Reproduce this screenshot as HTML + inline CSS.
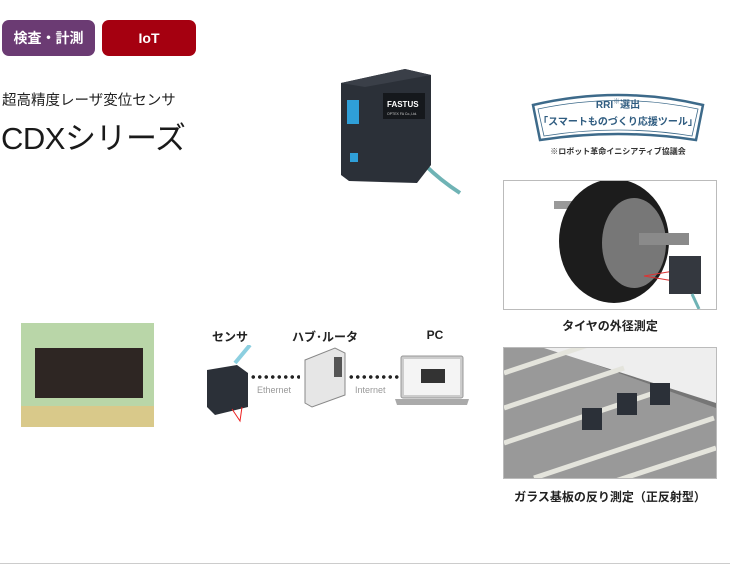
<!DOCTYPE html>
<html><head><meta charset="utf-8"><style>
body{margin:0;width:730px;height:570px;background:#fff;position:relative;overflow:hidden;font-family:"Liberation Sans","Noto Sans CJK JP",sans-serif}
.a{position:absolute}
.b{position:absolute;top:20px;height:36px;border-radius:7px;color:#fff;font-weight:bold;font-size:14px;text-align:center;line-height:36px}
.cap{position:absolute;font-weight:bold;font-size:12px;color:#222;text-align:center;white-space:nowrap}
.dots{position:absolute;height:4px;background:radial-gradient(circle,#222 1.6px,transparent 2px) 0 0/6.5px 4px repeat-x}
</style></head><body>
<div class="b" style="left:2px;width:93px;background:#6b3b73">検査・計測</div>
<div class="b" style="left:102px;width:94px;background:#a50010">IoT</div>
<div class="a" style="left:2px;top:89px;font-size:14.5px;color:#222">超高精度レーザ変位センサ</div>
<div class="a" style="left:1px;top:113px;font-size:31px;color:#1a1a1a;letter-spacing:-0.5px">CDXシリーズ</div>

<!-- product -->
<svg class="a" style="left:335px;top:65px" width="130" height="135">
<path d="M90 100 Q105 115 125 128" stroke="#6fb3b5" stroke-width="4" fill="none"/>
<path d="M6 18 L70 4 L96 10 L96 100 L82 118 L14 116 L6 110 Z" fill="#2b3038"/>
<path d="M6 18 L70 4 L96 10 L30 22 Z" fill="#3a3f48"/>
<rect x="12" y="35" width="12" height="24" fill="#2f9fd8"/>
<rect x="15" y="88" width="8" height="9" fill="#2f9fd8"/>
<rect x="48" y="28" width="42" height="26" fill="#15181c"/>
<text x="52" y="42" font-size="8" font-weight="bold" fill="#fff" font-family="Liberation Sans">FASTUS</text>
<text x="52" y="50" font-size="3.5" fill="#ccc" font-family="Liberation Sans">OPTEX FA Co.,Ltd.</text>
</svg>

<!-- RRI badge -->
<svg class="a" style="left:528px;top:90px" width="180" height="56">
<path d="M5 15 Q90 -5 175 15 L168 50 Q90 38 12 50 Z" fill="#fff" stroke="#3d6a8a" stroke-width="2.5"/>
<path d="M10 19 Q90 2 170 19 L164 46 Q90 34 16 46 Z" fill="none" stroke="#3d6a8a" stroke-width="0.8"/>
</svg>
<div class="a" style="left:528px;top:96px;width:180px;text-align:center;font-size:10px;font-weight:bold;color:#2f5c80">RRI<sup style="font-size:7px">※</sup>選出</div>
<div class="a" style="left:528px;top:113px;width:180px;text-align:center;font-size:10px;font-weight:bold;color:#2f5c80">「スマートものづくり応援ツール」</div>
<div class="a" style="left:528px;top:146px;width:180px;text-align:center;font-size:8px;font-weight:bold;color:#333">※ロボット革命イニシアティブ協議会</div>

<!-- tire -->
<div class="a" style="left:503px;top:180px;width:212px;height:128px;border:1px solid #bbb;overflow:hidden;background:#fff">
<svg width="212" height="128">
<rect x="50" y="20" width="30" height="8" fill="#999"/>
<ellipse cx="110" cy="60" rx="55" ry="62" fill="#1c1c1c"/>
<ellipse cx="130" cy="62" rx="32" ry="45" fill="#777"/>
<rect x="135" y="52" width="50" height="12" fill="#8a8a8a"/>
<path d="M140 95 L170 90 L170 100 Z" fill="none" stroke="#d33" stroke-width="1"/>
<rect x="165" y="75" width="32" height="38" fill="#34383f"/>
<path d="M188 113 L195 128" stroke="#6fb3b5" stroke-width="3"/>
</svg></div>
<div class="cap" style="left:503px;top:317px;width:214px">タイヤの外径測定</div>

<!-- glass -->
<div class="a" style="left:503px;top:347px;width:212px;height:130px;border:1px solid #bbb;overflow:hidden;background:#767676">
<svg width="212" height="130">
<path d="M45 0 L212 60 L212 130 L0 130 L0 0Z" fill="#999"/>
<path d="M40 0 L212 55 L212 0Z" fill="#eee"/>
<g stroke="#e4e4dc" stroke-width="5">
<line x1="0" y1="25" x2="90" y2="-5"/><line x1="0" y1="60" x2="120" y2="20"/><line x1="0" y1="95" x2="150" y2="45"/>
<line x1="30" y1="130" x2="210" y2="70"/><line x1="90" y1="140" x2="212" y2="100"/>
</g>
<rect x="78" y="60" width="20" height="22" fill="#2b3038"/><rect x="113" y="45" width="20" height="22" fill="#2b3038"/><rect x="146" y="35" width="20" height="22" fill="#2b3038"/>
</svg></div>
<div class="cap" style="left:503px;top:488px;width:214px">ガラス基板の反り測定（正反射型）</div>

<!-- chip -->
<div class="a" style="left:21px;top:323px;width:133px;height:104px;background:#b9d6a8">
<div class="a" style="left:14px;top:25px;width:108px;height:50px;background:#2e2623"></div>
<div class="a" style="left:0;top:83px;width:133px;height:21px;background:#d9c98a"></div>
</div>

<!-- network -->
<div class="cap" style="left:200px;top:328px;width:60px">センサ</div>
<div class="cap" style="left:290px;top:328px;width:70px">ハブ･ルータ</div>
<div class="cap" style="left:405px;top:328px;width:60px">PC</div>
<svg class="a" style="left:200px;top:345px" width="60" height="80">
<path d="M35 18 L50 0" stroke="#8ccfe0" stroke-width="4"/>
<path d="M7 25 L37 20 L48 28 L48 62 L15 70 L7 62 Z" fill="#2b3038"/>
<path d="M32 64 L40 76 L42 62" stroke="#e22" fill="none"/>
</svg>
<div class="dots" style="left:250px;top:375px;width:50px"></div>
<div class="a" style="left:257px;top:385px;font-size:9px;color:#999">Ethernet</div>
<svg class="a" style="left:300px;top:345px" width="50" height="65">
<path d="M5 15 L35 3 L45 8 L45 50 L12 62 L5 58 Z" fill="#e6e6e6" stroke="#888"/>
<rect x="34" y="12" width="8" height="20" fill="#555"/>
</svg>
<div class="dots" style="left:348px;top:375px;width:53px"></div>
<div class="a" style="left:355px;top:385px;font-size:9px;color:#999">Internet</div>
<svg class="a" style="left:393px;top:355px" width="80" height="52">
<rect x="8" y="1" width="62" height="42" rx="2" fill="#ccc" stroke="#999"/>
<rect x="11" y="4" width="56" height="36" fill="#f4f4f4"/>
<rect x="28" y="14" width="24" height="14" fill="#333"/>
<path d="M2 44 L76 44 L74 50 L4 50Z" fill="#aaa"/>
</svg>

<div class="a" style="left:0;top:563px;width:730px;height:1px;background:#ccc"></div>
</body></html>
